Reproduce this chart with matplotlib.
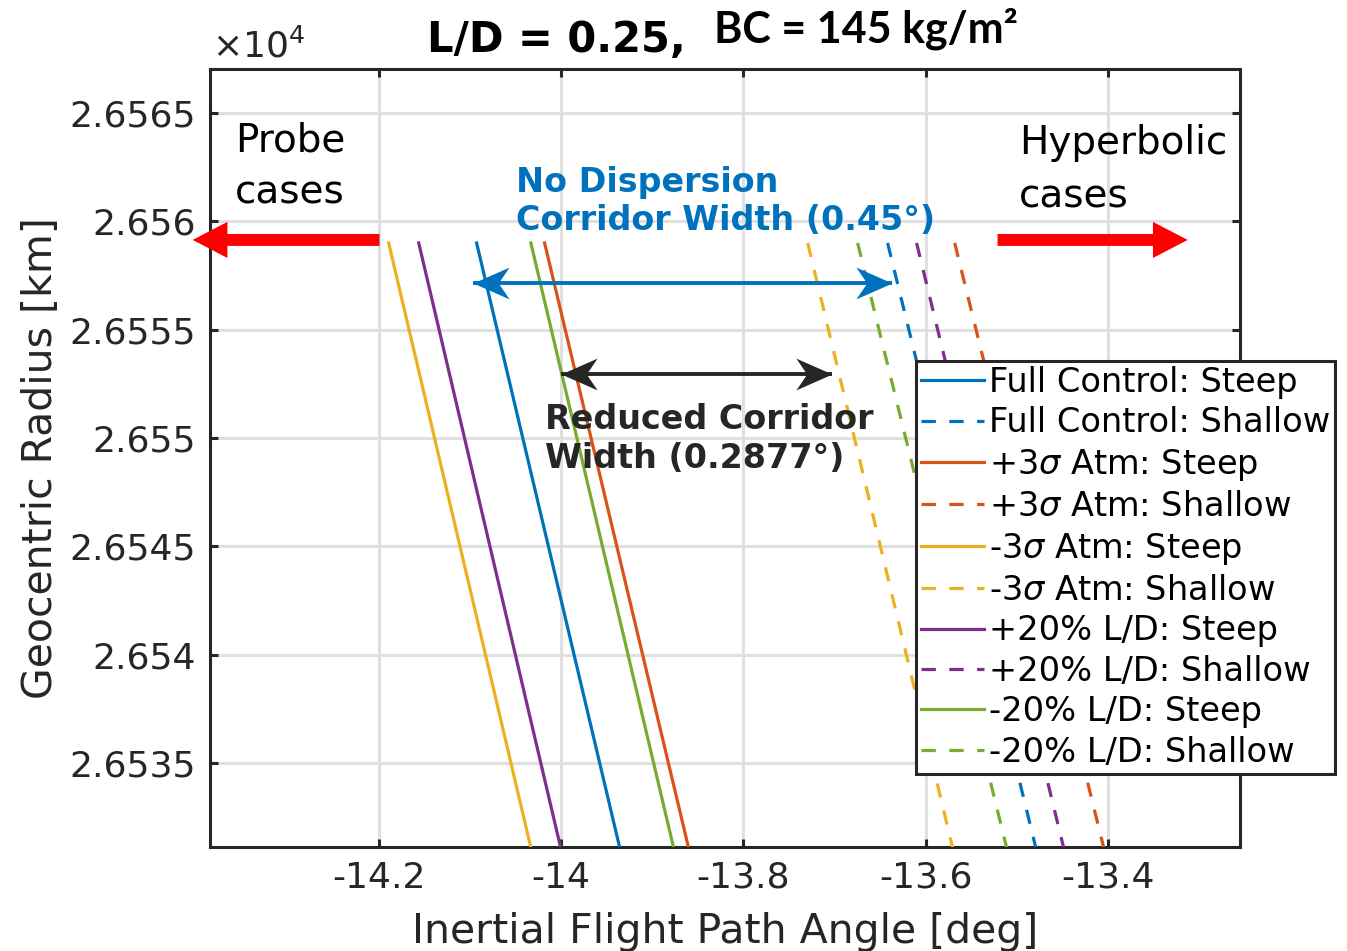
import numpy as np
import matplotlib
matplotlib.use('Agg')
import matplotlib.pyplot as plt
from matplotlib.patches import FancyArrowPatch
from matplotlib.path import Path
from matplotlib.ticker import FuncFormatter

# Flight path angle [deg] at top and bottom of each trajectory curve
r_ends = [26559.0, 26531.0]  # geocentric radius [km]
labels = ['Full Control: Steep', 'Full Control: Shallow',
          '+3$\\sigma$ Atm: Steep', '+3$\\sigma$ Atm: Shallow',
          '-3$\\sigma$ Atm: Steep', '-3$\\sigma$ Atm: Shallow',
          '+20% L/D: Steep', '+20% L/D: Shallow',
          '-20% L/D: Steep', '-20% L/D: Shallow']
fpa_full_steep = [-14.0925, -13.9350]
fpa_full_shallow = [-13.6416, -13.4785]
fpa_p3s_steep = [-14.0179, -13.8595]
fpa_p3s_shallow = [-13.5680, -13.4040]
fpa_m3s_steep = [-14.1890, -14.0325]
fpa_m3s_shallow = [-13.7293, -13.5698]
fpa_pld_steep = [-14.1560, -13.9998]
fpa_pld_shallow = [-13.6098, -13.4480]
fpa_mld_steep = [-14.0330, -13.8759]
fpa_mld_shallow = [-13.6745, -13.5105]

series = [fpa_full_steep, fpa_full_shallow, fpa_p3s_steep, fpa_p3s_shallow,
          fpa_m3s_steep, fpa_m3s_shallow, fpa_pld_steep, fpa_pld_shallow,
          fpa_mld_steep, fpa_mld_shallow]
colors = ['#0072BD', '#D95319', '#EDB120', '#7E2F8E', '#77AC30']

# corridor arrows
nodisp_fpa = [-14.0969, -13.6372]
nodisp_r = 26557.15
reduced_fpa = [-14.0003, -13.7030]
reduced_r = 26552.95
probe_arrow = [-14.199, -14.404]
hyper_arrow = [-13.521, -13.3124]
side_arrow_r = 26559.14

fig = plt.figure(figsize=(13.47, 9.51), dpi=100)
ax = fig.add_axes([210/1347, 1-847/951, 1030/1347, 778/951])
dark = '#262626'

for i, fpa in enumerate(series):
    line, = ax.plot(fpa, r_ends, color=colors[i // 2], lw=2.3, label=labels[i], zorder=3)
    if i % 2 == 1:
        line.set_dashes((4.5, 4.2))

ax.set_xlim(-14.385, -13.255)
ax.set_ylim(26531.12, 26567.03)
ax.set_xticks([-14.2, -14.0, -13.8, -13.6, -13.4])
ax.set_xticklabels(['-14.2', '-14', '-13.8', '-13.6', '-13.4'])
ax.set_yticks([26535, 26540, 26545, 26550, 26555, 26560, 26565])
ax.yaxis.set_major_formatter(FuncFormatter(lambda v, p: '%g' % round(v / 1e4, 5)))
ax.tick_params(direction='in', length=6, width=2.2, top=True, right=True,
               labelsize=26, colors=dark, pad=10)
ax.grid(True, color='#e0e0e0', lw=2.2)
ax.set_axisbelow(True)
for s in ax.spines.values():
    s.set_linewidth(2.2)
    s.set_color(dark)

ax.set_xlabel('Inertial Flight Path Angle [deg]', fontsize=29.5, color=dark, labelpad=12)
ax.set_ylabel('Geocentric Radius [km]', fontsize=29.5, color=dark, labelpad=6)
fig.text(212/1347, 1-58/951, r'$\times10^{4}$', fontsize=26, color=dark)

fig.text(427/1347, 1-52/951, 'L/D = 0.25,', fontsize=30, fontweight='bold', va='baseline')
fig.text(714/1347, 1-42/951, 'BC = 145 kg/m\u00b2', fontsize=31, fontweight='bold',
         family=['Lato', 'DejaVu Sans'], va='baseline')

# side arrows (red)
for xs in (probe_arrow, hyper_arrow):
    ar = FancyArrowPatch((xs[0], side_arrow_r), (xs[1], side_arrow_r),
                         arrowstyle='simple,head_length=25,head_width=26,tail_width=8.6',
                         mutation_scale=1, color='red', lw=0, shrinkA=0, shrinkB=0,
                         clip_on=False, zorder=4)
    ax.add_patch(ar)

# corridor arrows with swept-back heads
head_r = Path([(0, 0), (-1, 0.44), (-0.7, 0), (-1, -0.44), (0, 0)],
              [Path.MOVETO, Path.LINETO, Path.LINETO, Path.LINETO, Path.CLOSEPOLY])
head_l = Path([(0, 0), (1, 0.44), (0.7, 0), (1, -0.44), (0, 0)],
              [Path.MOVETO, Path.LINETO, Path.LINETO, Path.LINETO, Path.CLOSEPOLY])
for xs, rr, c in ((nodisp_fpa, nodisp_r, '#0072BD'), (reduced_fpa, reduced_r, dark)):
    ax.plot(xs, [rr, rr], color=c, lw=2.8, zorder=4, solid_capstyle='butt')
    ax.plot([xs[0]], [rr], marker=head_l, ms=52, color=c, mew=0, zorder=4)
    ax.plot([xs[1]], [rr], marker=head_r, ms=52, color=c, mew=0, zorder=4)

ax.text(235/1347, 1-121/951, 'Probe\ncases', transform=fig.transFigure,
        fontsize=28, va='top', ha='left', linespacing=1.5)
ax.text(1019/1347, 1-124/951, 'Hyperbolic\ncases', transform=fig.transFigure,
        fontsize=28, va='top', ha='left', linespacing=1.5)
ax.text(516/1347, 1-166/951, 'No Dispersion\nCorridor Width (0.45\u00b0)',
        transform=fig.transFigure, fontsize=24, fontweight='bold', color='#0072BD',
        va='top', ha='left', linespacing=1.2, zorder=5)
ax.text(545/1347, 1-403/951, 'Reduced Corridor\nWidth (0.2877\u00b0)',
        transform=fig.transFigure, fontsize=24, fontweight='bold', color=dark,
        va='top', ha='left', linespacing=1.25, zorder=5)

leg = ax.legend(loc='upper left', bbox_to_anchor=(916/1347, 1-361/951),
                bbox_transform=fig.transFigure, fontsize=24.2, frameon=True,
                fancybox=False, framealpha=1, edgecolor=dark,
                handlelength=1.86, handletextpad=0.15, labelspacing=0.22,
                borderpad=0.15, borderaxespad=0)
leg.get_frame().set_linewidth(2.2)
leg.set_zorder(6)

fig.savefig('out.png', dpi=100)
